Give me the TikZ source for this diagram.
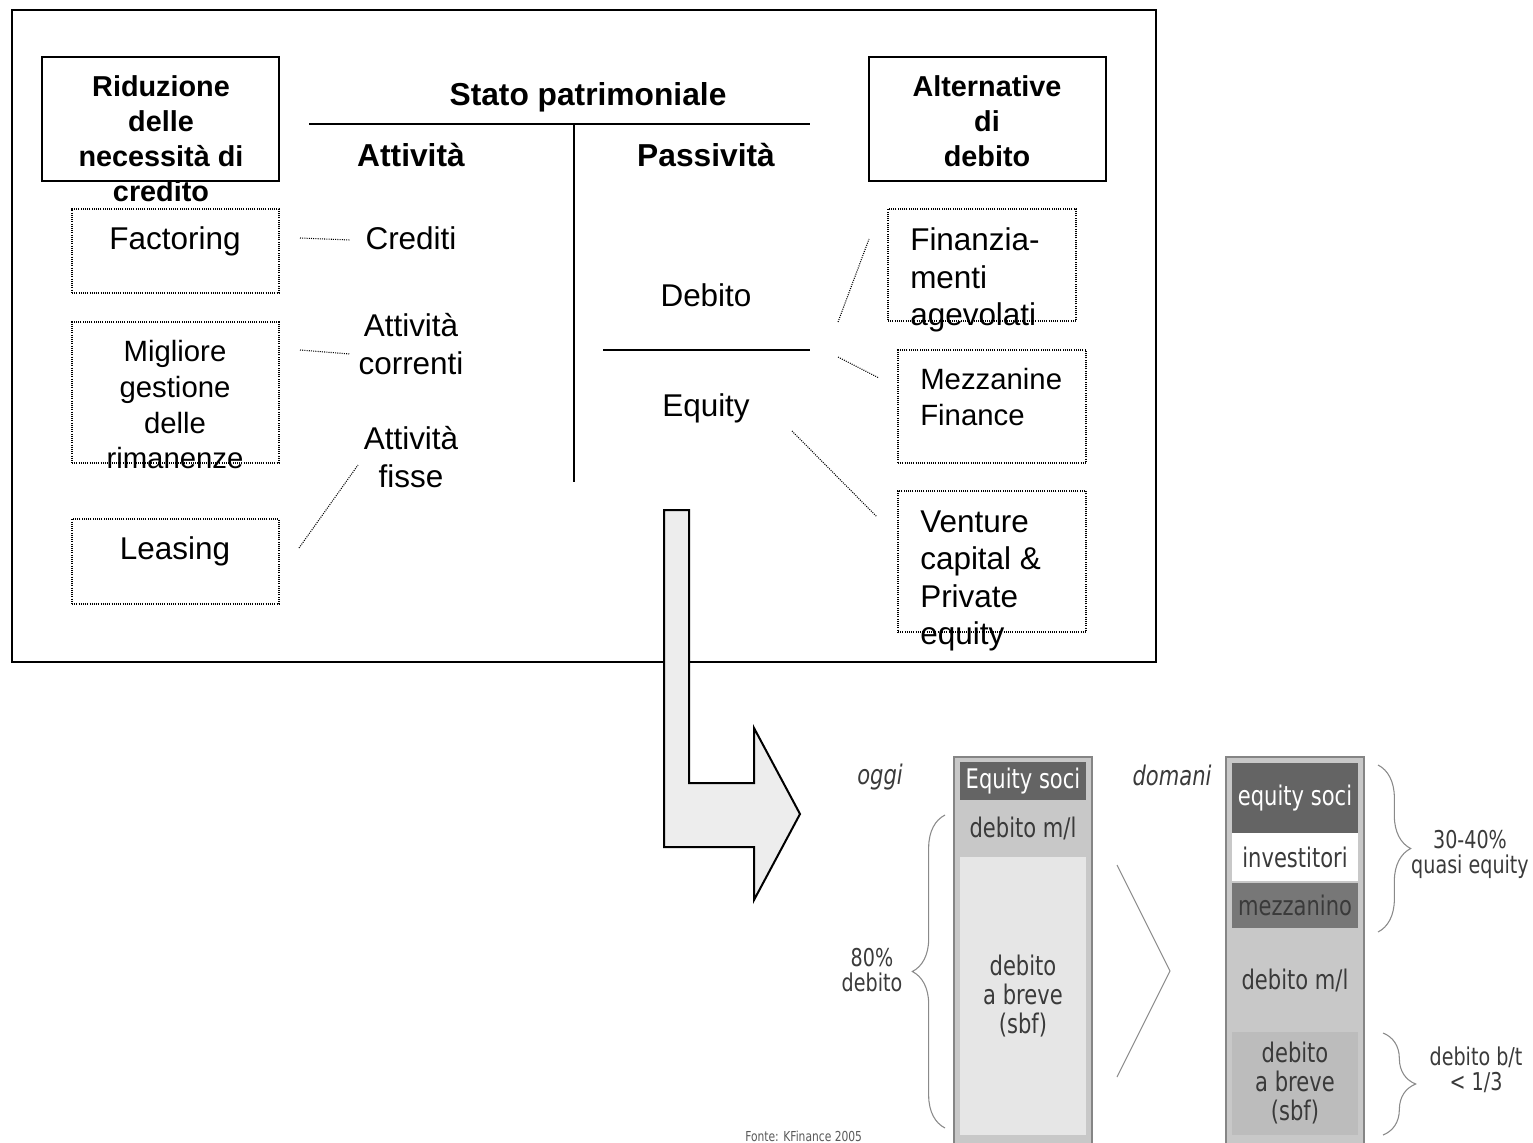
\documentclass[tikz,border=0pt]{standalone}
\usepackage{fontspec}
\setmainfont{Liberation Sans}
\newfontfamily\chartfont[FakeStretch=0.78]{DejaVu Sans}
\usetikzlibrary{fit,calc,decorations.pathreplacing}
\definecolor{carrow}{HTML}{EDEDED}
\definecolor{cbarD}{HTML}{646464}
\definecolor{cmez}{HTML}{777777}
\definecolor{cbarM}{HTML}{C8C8C8}
\definecolor{cbarL}{HTML}{E6E6E6}
\definecolor{cbarB}{HTML}{BCBCBC}
\definecolor{cbarE}{HTML}{858585}
\definecolor{ctxt}{HTML}{3A3A3A}
\definecolor{cbrace}{HTML}{8A8A8A}
\tikzset{
  panel/.style={draw, line width=1.5pt, inner sep=0pt},
  hbox/.style={draw, line width=1.4pt, inner sep=0pt},
  dbox/.style={draw, line width=0.8pt, dash pattern=on 0.75pt off 0.9pt, inner sep=0pt},
  dline/.style={line width=0.8pt, dash pattern=on 0.75pt off 0.9pt},
  htxt/.style={font=\fontsize{21.6}{26.25}\selectfont\bfseries, align=center, inner sep=0pt},
  ttxt/.style={font=\fontsize{23.8}{28}\selectfont\bfseries, inner sep=0pt},
  btxt/.style={font=\fontsize{23.6}{28}\selectfont, align=center, inner sep=0pt},
  stxt/.style={font=\fontsize{22}{26.75}\selectfont, align=center, inner sep=0pt},
  barframe/.style={draw=cbarE, fill=cbarM, line width=1.1pt, inner sep=0pt},
  seg/.style={inner sep=0pt, minimum width=94.5pt, align=center,
              font=\chartfont\fontsize{20.25}{21.75}\selectfont, text=ctxt},
  clab/.style={font=\chartfont\fontsize{18.4}{18.75}\selectfont, text=ctxt,
               align=center, inner sep=0pt},
  brc/.style={draw=cbrace, line width=0.8pt, decorate,
              decoration={brace, amplitude=24.5pt}},
}
\begin{document}
\begin{tikzpicture}[x=0.75pt, y=-0.75pt]
  \useasboundingbox (0,0) rectangle (1533,1142);
  \node[panel, fit={(12,10) (1156,662)}] (pan) {};

  \node[hbox, fit={(42,57) (279,181)}] (ridbox) {};
  \node[htxt] (rid) at (161,139) {Riduzione\\delle\\necessità di\\credito};
  \node[hbox, fit={(869,57) (1106,181)}] (altbox) {};
  \node[htxt] (alt) at (987,121) {Alternative\\di\\debito};

  \node[ttxt] (stato) at (588,97) {Stato patrimoniale};
  \node[ttxt] (att) at (411,155) {Attività};
  \node[ttxt] (pas) at (706,155) {Passività};
  \draw[line width=2.2pt] (309,124) -- (810,124);
  \draw[line width=2.2pt] (574,124) -- (574,482);
  \draw[line width=1.1pt] (603,350) -- (810,350);

  \node[dbox, fit={(72,209) (279,293)}] (facbox) {};
  \node[btxt] (fac) at (175,241) {Factoring};
  \node[dbox, fit={(72,322) (279,463)}] (migbox) {};
  \node[stxt] (mig) at (175,405) {Migliore\\gestione\\delle\\rimanenze};
  \node[dbox, fit={(72,519) (279,604)}] (leabox) {};
  \node[btxt] (lea) at (175,551) {Leasing};

  \node[btxt] (cred) at (411,238) {Crediti};
  \node[btxt] (corr) at (411,344) {Attività\\correnti};
  \node[btxt] (fis) at (411,457) {Attività\\fisse};
  \node[btxt] (deb) at (706,295) {Debito};
  \node[btxt] (equ) at (706,408) {Equity};

  \node[dbox, fit={(888,209) (1076,321)}] (finbox) {};
  \node[btxt, anchor=west, align=left] (fin) at (910,280) {Finanzia-\\menti\\agevolati};
  \node[dbox, fit={(898,350) (1086,463)}] (mezbox) {};
  \node[stxt, anchor=west, align=left] (mez) at (920,397) {Mezzanine\\Finance};
  \node[dbox, fit={(898,491) (1086,632)}] (venbox) {};
  \node[btxt, anchor=west, align=left] (ven) at (920,581) {Venture\\capital \&\\Private\\equity};

  \coordinate (facout) at (300,238);
  \coordinate (credin) at (350,240);
  \coordinate (migout) at (300,350);
  \coordinate (corrin) at (350,354);
  \coordinate (leaout) at (299,548);
  \coordinate (fisin) at (358,465);
  \coordinate (debout) at (838,322);
  \coordinate (finin) at (869,239);
  \coordinate (mezout) at (838,357);
  \coordinate (mezin) at (879,378);
  \coordinate (equout) at (792,431);
  \coordinate (venin) at (877,517);
  \draw[dline] (facout) -- (credin);
  \draw[dline] (migout) -- (corrin);
  \draw[dline] (leaout) -- (fisin);
  \draw[dline] (debout) -- (finin);
  \draw[dline] (mezout) -- (mezin);
  \draw[dline] (equout) -- (venin);

  \draw[fill=carrow, line width=1.5pt, line join=miter]
    (664,510) -- (689,510) -- (689,783) -- (754,783) -- (754,728) -- (800,814)
    -- (754,900) -- (754,847) -- (664,847) -- cycle;

  \node[barframe, fit={(954,757) (1092,1160)}] (oggibar) {};
  \node[seg, fill=cbarD, text=white, minimum height=28.5pt] (o1) at (1023,781) {Equity soci};
  \node[seg, fill=cbarM, minimum height=42.75pt] (o2) at (1023,828.5) {debito m/l};
  \node[seg, fill=cbarL, minimum height=208.5pt] (o3) at (1023,996) {debito\\a breve\\(sbf)};

  \node[barframe, fit={(1226,757) (1364,1160)}] (domanibar) {};
  \node[seg, fill=cbarD, text=white, minimum height=52.5pt] (d1) at (1295,798) {equity soci};
  \node[seg, fill=white, minimum height=36pt] (d2) at (1295,857) {investitori};
  \node[seg, fill=cmez, minimum height=33.75pt] (d3) at (1295,905.5) {mezzanino};
  \node[seg, fill=cbarM, minimum height=78pt] (d4) at (1295,980) {debito m/l};
  \node[seg, fill=cbarB, minimum height=77.25pt] (d5) at (1295,1083.5) {debito\\a breve\\(sbf)};

  \node[seg, minimum width=0pt, font=\chartfont\fontsize{20.25}{21.75}\selectfont\itshape] (oggi) at (880,777) {oggi};
  \node[seg, minimum width=0pt, font=\chartfont\fontsize{20.25}{21.75}\selectfont\itshape] (domani) at (1172,775) {domani};

  \draw[cbrace, line width=0.8pt] (1117,865) -- (1170,971) -- (1117,1077);

  \draw[brc] (945,1128) -- (945,815);
  \node[clab] (l80) at (872,970) {80\%\\debito};
  \draw[brc] (1378,765) -- (1378,932);
  \node[clab] (l3040) at (1470,854) {30-40\%\\quasi equity};
  \draw[brc] (1383,1033) -- (1383,1135);
  \node[clab] (lbt) at (1476,1070) {debito b/t\\< 1/3};

  \node[clab, anchor=base west, text=black!65, font=\chartfont\fontsize{10.3}{12}\selectfont] (fonte) at (745,1141) {Fonte: KFinance 2005};
\end{tikzpicture}
\end{document}
